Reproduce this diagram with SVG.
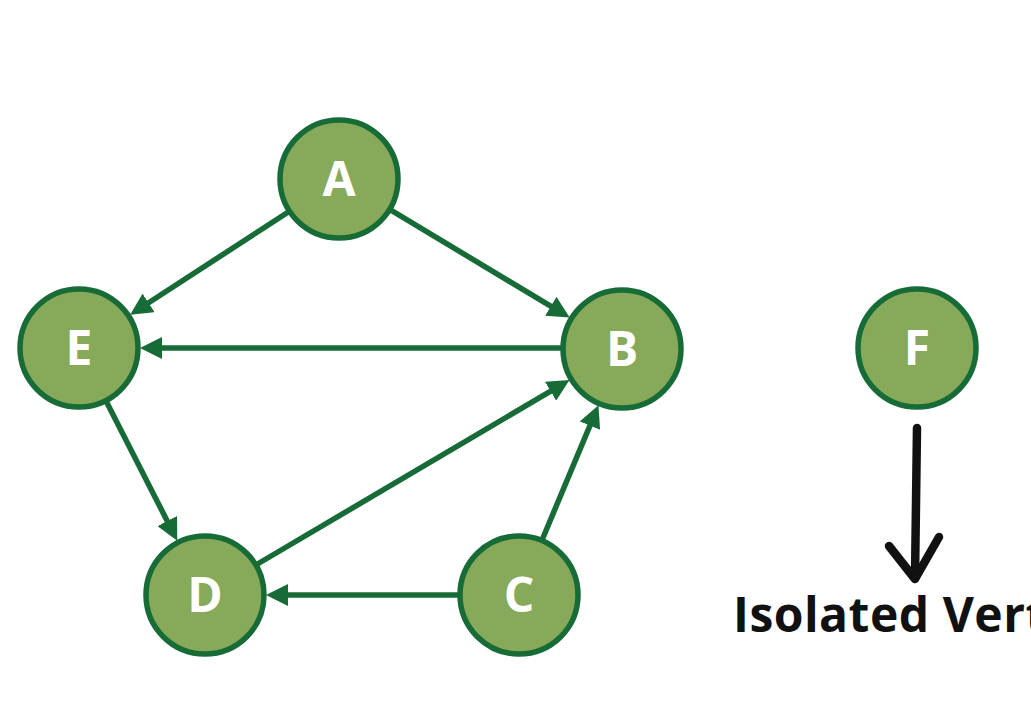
<svg xmlns="http://www.w3.org/2000/svg" width="1031" height="714" viewBox="0 0 1031 714">
<style>
.node circle{fill:#86a95a;stroke:#176b37;stroke-width:5.5}
.node text{fill:#ffffff;font-family:"Open Sans","Liberation Sans",sans-serif;font-weight:700;font-size:48px;text-anchor:middle}
.edge{stroke:#176b37;stroke-width:5.5;fill:none;marker-end:url(#ah)}
.label{fill:#111111;font-family:"Open Sans","Liberation Sans",sans-serif;font-weight:700;font-size:48px;letter-spacing:0.5px}
.iso{stroke:#111111;stroke-width:8.5;fill:none;stroke-linecap:round;stroke-linejoin:round}
</style>
<defs>
<marker id="ah" markerUnits="userSpaceOnUse" markerWidth="22" markerHeight="22" refX="10" refY="11" orient="auto">
<path d="M0,0 L22,11 L0,22 z" fill="#176b37"/>
</marker>
</defs>
<rect width="1031" height="714" fill="#ffffff"/>
<g id="connectors">
<line class="edge" x1="287.9" y1="212.2" x2="140.2" y2="308.3"/>
<line class="edge" x1="391.3" y1="210.4" x2="559.4" y2="311.4"/>
<line class="edge" x1="561" y1="348" x2="152" y2="348"/>
<line class="edge" x1="106.7" y1="402.3" x2="171.8" y2="530"/>
<line class="edge" x1="257.5" y1="564" x2="559.2" y2="386.1"/>
<line class="edge" x1="542.6" y1="538.7" x2="593.8" y2="416.4"/>
<line class="edge" x1="458" y1="595" x2="278" y2="595"/>
</g>
<g id="node-A" class="node"><circle cx="339" cy="179" r="59"/><text x="339" y="196">A</text></g>
<g id="node-E" class="node"><circle cx="79" cy="348" r="59"/><text x="79" y="365">E</text></g>
<g id="node-B" class="node"><circle cx="622" cy="349" r="59"/><text x="622" y="366">B</text></g>
<g id="node-F" class="node"><circle cx="917" cy="348" r="59"/><text x="917" y="365">F</text></g>
<g id="node-D" class="node"><circle cx="205" cy="595" r="59"/><text x="205" y="612">D</text></g>
<g id="node-C" class="node"><circle cx="519" cy="595" r="59"/><text x="519" y="612">C</text></g>
<g id="isolated">
<path class="iso" d="M917,428 L915,578"/>
<path class="iso" d="M889,546 L915,579 L939,537"/>
<text class="label" x="733" y="632">Isolated Vert</text>
</g>
</svg>
